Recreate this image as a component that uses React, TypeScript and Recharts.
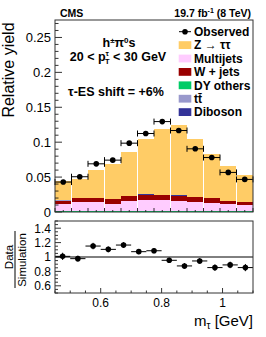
import React from 'react';
import { ComposedChart, Bar, Scatter, XAxis, YAxis, ErrorBar, ReferenceLine } from 'recharts';

// ---------- data ----------
const binCenters = [0.5, 1.5, 2.5, 3.5, 4.5, 5.5, 6.5, 7.5, 8.5, 9.5, 10.5, 11.5];
const observed = [0.0429, 0.0505, 0.069, 0.0743, 0.0986, 0.1124, 0.1295, 0.1167, 0.0905, 0.078, 0.0567, 0.0467];
const observedErr = [0.003, 0.003, 0.003, 0.003, 0.003, 0.003, 0.003, 0.003, 0.003, 0.003, 0.003, 0.003];
const observedBinHalf = [0.5, 0.5, 0.5, 0.5, 0.5, 0.5, 0.5, 0.5, 0.5, 0.5, 0.5, 0.5];

const dyOthers = [0.0012, 0.0012, 0.0012, 0.0012, 0.0012, 0.0012, 0.0012, 0.0012, 0.0012, 0.0012, 0.0012, 0.0012];
const multijets = [0.0102, 0.0126, 0.0126, 0.0108, 0.0145, 0.0155, 0.0155, 0.0145, 0.0131, 0.0121, 0.0098, 0.0093];
const wjets = [0.0048, 0.0062, 0.0062, 0.0066, 0.0067, 0.0076, 0.0071, 0.0072, 0.0067, 0.0062, 0.0043, 0.0038];
const ttbar = [0.0003, 0.0004, 0.0004, 0.0004, 0.0005, 0.0006, 0.0006, 0.0006, 0.0006, 0.0005, 0.0004, 0.0004];
const diboson = [0.0003, 0.0003, 0.0003, 0.0003, 0.0004, 0.0005, 0.0005, 0.0005, 0.0005, 0.0004, 0.0003, 0.0003];
const ztautau = [0.027, 0.0269, 0.0398, 0.0497, 0.0624, 0.0794, 0.0941, 0.1, 0.0819, 0.0629, 0.05, 0.0383];

const ratioMass = [0.475, 0.525, 0.575, 0.625, 0.675, 0.725, 0.775, 0.825, 0.875, 0.925, 0.975, 1.025, 1.075];
const ratioValues = [1.009, 0.977, 1.152, 1.106, 1.166, 1.074, 1.087, 0.954, 0.876, 0.945, 0.853, 0.89, 0.853];
const ratioErr = [0.05, 0.04, 0.045, 0.04, 0.04, 0.035, 0.035, 0.035, 0.04, 0.04, 0.045, 0.045, 0.05];
const ratioMassHalf = [0.025, 0.025, 0.025, 0.025, 0.025, 0.025, 0.025, 0.025, 0.025, 0.025, 0.025, 0.025, 0.025];

const mainYTicks = [0, 0.01, 0.02, 0.03, 0.04, 0.05, 0.06, 0.07, 0.08, 0.09, 0.1, 0.11, 0.12, 0.13, 0.14, 0.15, 0.16, 0.17, 0.18, 0.19, 0.2, 0.21, 0.22, 0.23, 0.24, 0.25, 0.26, 0.27];
const mainYMajor = [0, 0.05, 0.1, 0.15, 0.2, 0.25];
const mainYLabels = ['0', '0.05', '0.1', '0.15', '0.2', '0.25'];
const mainXTicks = [0, 0.5, 1, 1.5, 2, 2.5, 3, 3.5, 4, 4.5, 5, 5.5, 6, 6.5, 7, 7.5, 8, 8.5, 9, 9.5, 10, 10.5, 11, 11.5, 12];
const mainXMajor = [0, 1, 2, 3, 4, 5, 6, 7, 8, 9, 10, 11, 12];

const ratioYTicks = [0.5, 0.55, 0.6, 0.65, 0.7, 0.75, 0.8, 0.85, 0.9, 0.95, 1, 1.05, 1.1, 1.15, 1.2, 1.25, 1.3, 1.35, 1.4, 1.45, 1.5];
const ratioYMajor = [0.6, 0.8, 1, 1.2, 1.4];
const ratioYLabels = ['0.6', '0.8', '1', '1.2', '1.4'];
const ratioXTicks = [0.45, 0.5, 0.55, 0.6, 0.65, 0.7, 0.75, 0.8, 0.85, 0.9, 0.95, 1, 1.05, 1.1];
const ratioXMajor = [0.6, 0.8, 1];
const ratioXLabels = ['0.6', '0.8', '1'];

const legendNames = ['Observed', 'Z  \u2192  \u03C4\u03C4', 'Multijets', 'W + jets', 'DY others', 't\u0074\u0304', 'Diboson'];
const legendColors = ['', '#FFCC66', '#FFCCFF', '#990000', '#00CC66', '#9999CC', '#333399'];

// stack order: bottom to top
const stackKeys = ['dy', 'mj', 'wj', 'tt', 'vv', 'ztt'];
const stackColors = ['#00CC66', '#FFCCFF', '#990000', '#9999CC', '#333399', '#FFCC66'];

const mainData = binCenters.map((b, i) => ({
  bin: b,
  obs: observed[i],
  obsErr: observedErr[i],
  obsXErr: observedBinHalf[i],
  dy: dyOthers[i],
  mj: multijets[i],
  wj: wjets[i],
  tt: ttbar[i],
  vv: diboson[i],
  ztt: ztautau[i],
}));

const ratioData = ratioMass.map((m, i) => ({ m, r: ratioValues[i], rErr: ratioErr[i], mErr: ratioMassHalf[i] }));

// ---------- layout ----------
const W = 266;
const H = 337;
const MAIN = { left: 55, right: 253, top: 20, bottom: 212 };
const RATIO = { left: 55, right: 253, top: 221, bottom: 293 };
const FONT = '"Liberation Sans", Arial, Helvetica, sans-serif';

const near = (arr: number[], v: number) => arr.findIndex((a) => Math.abs(a - v) < 1e-6);

function makeYTick(majors: number[], labels: string[], majLen: number, minLen: number, fs: number) {
  return (props: any) => {
    const { x, y, payload } = props;
    const idx = near(majors, payload.value);
    const major = idx >= 0;
    return (
      <g>
        <line x1={x} x2={x + (major ? majLen : minLen)} y1={y} y2={y} stroke="#000" strokeWidth={0.8} />
        {major && (
          <text x={x - 4} y={y} dy="0.36em" textAnchor="end" fontSize={fs} fontFamily={FONT} fill="#000">
            {labels[idx]}
          </text>
        )}
      </g>
    );
  };
}

function makeXTick(majors: number[], labels: string[] | null, majLen: number, minLen: number, fs: number) {
  return (props: any) => {
    const { x, y, payload } = props;
    const idx = near(majors, payload.value);
    const major = idx >= 0;
    return (
      <g>
        <line x1={x} x2={x} y1={y} y2={y - (major ? majLen : minLen)} stroke="#000" strokeWidth={0.8} />
        {major && labels && (
          <text x={x} y={y + 13.5} textAnchor="middle" fontSize={fs} fontFamily={FONT} fill="#000">
            {labels[idx]}
          </text>
        )}
      </g>
    );
  };
}

const Dot = (props: any) => {
  const { cx, cy } = props;
  if (cx == null || cy == null) return null;
  return <circle cx={cx} cy={cy} r={2.8} fill="#000" />;
};

// histogram bin: slightly widened so neighbouring bins join without seams
const HistBin = (props: any) => {
  const { x, y, width, height, fill } = props;
  if (x == null || y == null || !width || !height) return null;
  return <rect x={x - 0.6} y={y} width={width + 1.2} height={height} fill={fill} shapeRendering="crispEdges" />;
};

export default function App() {
  const mainChartH = MAIN.bottom + 20;
  const barSize = (MAIN.right - MAIN.left) / binCenters.length;
  const ratioTopOffset = MAIN.bottom;
  const ratioChartH = H - ratioTopOffset;
  return (
    <div style={{ position: 'absolute', left: 0, top: 0, width: W, height: H, background: '#fff' }}>
      <div style={{ position: 'absolute', left: 0, top: 0 }}>
        <ComposedChart
          width={W}
          height={mainChartH}
          data={mainData}
          margin={{ top: MAIN.top, right: W - MAIN.right, bottom: 0, left: 0 }}
          barCategoryGap={0}
          barGap={0}
        >
          <XAxis
            type="number"
            dataKey="bin"
            domain={[0, 12]}
            ticks={mainXTicks}
            interval={0}
            height={20}
            allowDataOverflow
            axisLine={false}
            tickLine={false}
            tickSize={0}
            tickMargin={0}
            tick={makeXTick(mainXMajor, null, 4, 2, 12)}
          />
          <YAxis
            type="number"
            domain={[0, 0.275]}
            ticks={mainYTicks}
            interval={0}
            width={MAIN.left}
            allowDataOverflow
            axisLine={false}
            tickLine={false}
            tickSize={0}
            tickMargin={0}
            tick={makeYTick(mainYMajor, mainYLabels, 7, 3.5, 13)}
          />
          {stackKeys.map((k, i) => (
            <Bar
              key={k}
              dataKey={k}
              stackId="mc"
              fill={stackColors[i]}
              barSize={barSize}
              shape={<HistBin />}
              isAnimationActive={false}
            />
          ))}
          <Scatter dataKey="obs" fill="#000" shape={<Dot />} isAnimationActive={false}>
            <ErrorBar dataKey="obsXErr" direction="x" width={3} stroke="#000" strokeWidth={1} />
            <ErrorBar dataKey="obsErr" direction="y" width={0} stroke="#000" strokeWidth={1} />
          </Scatter>
        </ComposedChart>
      </div>
      <div style={{ position: 'absolute', left: 0, top: ratioTopOffset }}>
        <ComposedChart
          width={W}
          height={ratioChartH}
          data={ratioData}
          margin={{ top: RATIO.top - ratioTopOffset, right: W - RATIO.right, bottom: 0, left: 0 }}
        >
          <XAxis
            type="number"
            dataKey="m"
            domain={[0.45, 1.1]}
            ticks={ratioXTicks}
            interval={0}
            height={H - RATIO.bottom}
            allowDataOverflow
            axisLine={false}
            tickLine={false}
            tickSize={0}
            tickMargin={0}
            tick={makeXTick(ratioXMajor, ratioXLabels, 5, 2.5, 12)}
          />
          <YAxis
            type="number"
            domain={[0.5, 1.5]}
            ticks={ratioYTicks}
            interval={0}
            width={RATIO.left}
            allowDataOverflow
            axisLine={false}
            tickLine={false}
            tickSize={0}
            tickMargin={0}
            tick={makeYTick(ratioYMajor, ratioYLabels, 6, 3, 12)}
          />
          <ReferenceLine y={1} stroke="#000" strokeWidth={1} />
          <Scatter dataKey="r" fill="#000" shape={<Dot />} isAnimationActive={false}>
            <ErrorBar dataKey="mErr" direction="x" width={0} stroke="#000" strokeWidth={1} />
            <ErrorBar dataKey="rErr" direction="y" width={0} stroke="#000" strokeWidth={1} />
          </Scatter>
        </ComposedChart>
      </div>
      <svg
        width={W}
        height={H}
        style={{ position: 'absolute', left: 0, top: 0, pointerEvents: 'none' }}
        fontFamily={FONT}
      >
        <rect x={MAIN.left} y={MAIN.top} width={MAIN.right - MAIN.left} height={MAIN.bottom - MAIN.top} fill="none" stroke="#333" strokeWidth={1} />
        <rect x={RATIO.left} y={RATIO.top} width={RATIO.right - RATIO.left} height={RATIO.bottom - RATIO.top} fill="none" stroke="#333" strokeWidth={1} />

        <text x={60} y={17} fontSize={10.5} fontWeight="bold">CMS</text>
        <text x={251} y={17} fontSize={10.5} fontWeight="bold" textAnchor="end">
          19.7 fb<tspan fontSize={7} dy={-4}>-1</tspan>
          <tspan dy={4}> (8 TeV)</tspan>
        </text>

        <text x={119} y={46.5} fontSize={12.5} fontWeight="bold" textAnchor="middle">
          h<tspan fontSize={8} dy={-4}>{'\u00B1'}</tspan>
          <tspan dy={4}>{'\u03C0'}</tspan>
          <tspan fontSize={8} dy={-4}>0</tspan>
          <tspan dy={4}>s</tspan>
        </text>
        <text x={118} y={61} fontSize={12.5} fontWeight="bold" textAnchor="middle">
          {'20 < p'}
          <tspan fontSize={7.5} dy={-5}>{'\u03C4'}</tspan>
          <tspan fontSize={7.5} dx={-4} dy={8}>T</tspan>
          <tspan dy={-3}>{' < 30 GeV'}</tspan>
        </text>
        <text x={116} y={96} fontSize={12.5} fontWeight="bold" textAnchor="middle">
          {'\u03C4-ES shift = +6%'}
        </text>

        {legendNames.map((name, i) => {
          const cy = 31.7 + i * 13.4;
          return (
            <g key={name}>
              {i === 0 ? (
                <g>
                  <line x1={179} x2={191} y1={cy} y2={cy} stroke="#000" strokeWidth={1} />
                  <circle cx={185} cy={cy} r={2.8} fill="#000" />
                </g>
              ) : (
                <rect x={178.7} y={cy - 3.9} width={12.6} height={7.8} fill={legendColors[i]} />
              )}
              <text x={194} y={cy} dy="0.36em" fontSize={12} fontWeight="bold">
                {name}
              </text>
            </g>
          );
        })}

        <text transform="translate(14,70) rotate(-90)" textAnchor="middle" fontSize={16}>
          Relative yield
        </text>

        <text transform="translate(13,257) rotate(-90)" textAnchor="middle" fontSize={11.5}>
          Data
        </text>
        <line x1={15} x2={15} y1={231} y2={288} stroke="#000" strokeWidth={1} />
        <text transform="translate(25.5,260) rotate(-90)" textAnchor="middle" fontSize={11.5}>
          Simulation
        </text>

        <text x={253} y={326} textAnchor="end" fontSize={15}>
          m<tspan fontSize={10} dy={3}>{'\u03C4'}</tspan>
          <tspan dy={-3}>{' [GeV]'}</tspan>
        </text>
      </svg>
    </div>
  );
}
